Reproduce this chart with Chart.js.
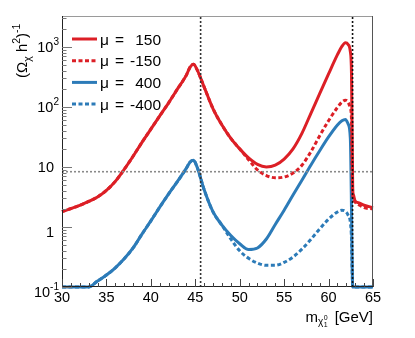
<!DOCTYPE html>
<html>
<head>
<meta charset="utf-8">
<script src="https://cdn.jsdelivr.net/npm/chart.js@4.4.1/dist/chart.umd.min.js"></script>
<style>
html, body { margin: 0; padding: 0; background: #fff; }
#wrap { width: 415px; height: 338px; }
</style>
</head>
<body>
<div id="wrap"><canvas id="relic" width="415" height="338"></canvas></div>
<script>
// neutralino mass grid (GeV)
const massGeV = [30, 32, 33, 34, 35, 36, 37, 38, 39, 40, 41, 42, 43, 44, 44.4, 44.8, 45.2, 46, 47, 48, 49, 50, 51, 52, 53,
    54, 55, 56, 57, 58, 59, 60, 61, 61.5, 61.9, 62.2, 62.45, 62.58, 62.65, 62.72, 62.8, 63, 63.5, 64, 65];

// (Omega h^2)^-1 for each mu
const invOmegaMu150 = [1.8, 2.29, 2.66, 3.16, 4.07, 5.75, 9.1, 15.1, 25.7, 42.7, 70.8, 117, 200, 339, 457, 513, 417, 214, 93, 50, 30, 20, 14.1, 11, 10,
    10.7, 13.5, 20, 36.3, 77.6, 166, 355, 741, 1020, 1175, 1100, 832, 355, 32, 4.2, 3.4, 2.7, 2.5, 2.3, 2.1];
const invOmegaMuM150 = [1.8, 2.29, 2.66, 3.16, 4.07, 5.75, 9.1, 15.1, 25.7, 42.7, 70.8, 117, 200, 339, 457, 513, 417, 214, 93, 50, 30, 20, 13.2, 8.9, 7.2,
    6.6, 6.8, 7.9, 10.7, 17.8, 33, 59, 98, 120, 129, 120, 95, 63, 10, 3.5, 3.0, 2.6, 2.3, 2.1, 2.0];
const invOmegaMu400 = [0.1, 0.1, 0.1, 0.126, 0.158, 0.209, 0.295, 0.447, 0.76, 1.26, 2.14, 3.55, 5.75, 9.55, 12.0, 12.9, 10, 4.17, 1.78, 1.07, 0.72, 0.525, 0.42, 0.447, 0.63,
    1.1, 1.9, 3.4, 6.0, 10.7, 18.6, 31.6, 50, 59, 62, 52, 30, 2.0, 0.25, 0.1, 0.1, 0.1, 0.1, 0.1, 0.1];
const invOmegaMuM400 = [0.1, 0.1, 0.1, 0.126, 0.158, 0.209, 0.295, 0.447, 0.76, 1.26, 2.14, 3.55, 5.75, 9.55, 12.0, 12.9, 10, 4.17, 1.78, 1.07, 0.63, 0.4, 0.3, 0.25, 0.23,
    0.23, 0.257, 0.316, 0.427, 0.62, 0.93, 1.35, 1.78, 1.9, 1.82, 1.58, 1.2, 0.63, 0.2, 0.1, 0.1, 0.1, 0.1, 0.1, 0.1];

const muLabels = ['150', '-150', '400', '-400'];

// reference lines: mZ/2, mh/2 and Planck relic density
const zHalfMass = 45.6;
const hHalfMass = 62.7;
const planckInvOmega = 8.33;

// axes
const xMin = 30, xMax = 65;
const yMin = 0.1, yMax = 3270;
const xTickValues = [30, 35, 40, 45, 50, 55, 60, 65];
const yTickValues = [0.1, 1, 10, 100, 1000];
const yTickBase = ['10', '1', '10', '10', '10'];
const yTickExp = ['-1', '', '', '2', '3'];

const RED = '#dc1f26';
const BLUE = '#2c7bb8';
const FONT = "'Liberation Sans', Arial, sans-serif";
const DASH = [4, 2.5];

const toPoints = (ys) => massGeV.map((m, i) => ({ x: m, y: ys[i] }));

function curve(ys, color, dashed) {
    return {
        data: toPoints(ys),
        borderColor: color,
        borderWidth: 3,
        borderDash: dashed ? DASH : [],
        pointRadius: 0,
        cubicInterpolationMode: 'monotone',
        clip: 4
    };
}

function refLine(points, color) {
    return {
        data: points,
        borderColor: color,
        borderWidth: 1.6,
        borderDash: [2, 2],
        pointRadius: 0,
        tension: 0
    };
}

// draws text made of pieces with their own size and vertical shift
function richText(ctx, parts, x, y) {
    let cx = x;
    parts.forEach(p => {
        ctx.font = p.size + 'px ' + FONT;
        ctx.fillText(p.t, cx, y + (p.dy || 0));
        cx += ctx.measureText(p.t).width;
    });
    return cx;
}

function richWidth(ctx, parts) {
    let w = 0;
    parts.forEach(p => {
        ctx.font = p.size + 'px ' + FONT;
        w += ctx.measureText(p.t).width;
    });
    return w;
}

const decorations = {
    id: 'decorations',
    beforeDraw(chart) {
        const ctx = chart.ctx;
        ctx.save();
        ctx.fillStyle = '#fff';
        ctx.fillRect(0, 0, chart.width, chart.height);
        ctx.restore();
    },
    afterDatasetsDraw(chart) {
        const ctx = chart.ctx;
        const xs = chart.scales.x, ys = chart.scales.y;
        const a = chart.chartArea;
        ctx.save();

        // frame
        ctx.lineWidth = 1;
        ctx.strokeStyle = '#9a9a9a';
        ctx.beginPath(); ctx.moveTo(a.left, a.top + 0.5); ctx.lineTo(a.right, a.top + 0.5); ctx.stroke();
        ctx.strokeStyle = '#555';
        ctx.beginPath(); ctx.moveTo(a.right - 0.5, a.top); ctx.lineTo(a.right - 0.5, a.bottom); ctx.stroke();
        ctx.strokeStyle = '#222';
        ctx.beginPath();
        ctx.moveTo(a.left + 0.5, a.top); ctx.lineTo(a.left + 0.5, a.bottom);
        ctx.moveTo(a.left, a.bottom - 0.5); ctx.lineTo(a.right, a.bottom - 0.5);
        ctx.stroke();

        // x ticks (inside the frame)
        ctx.strokeStyle = '#444';
        ctx.beginPath();
        for (let m = xMin; m <= xMax; m++) {
            const px = Math.round(xs.getPixelForValue(m)) + 0.5;
            const len = xTickValues.includes(m) ? 8 : 4;
            ctx.moveTo(px, a.bottom); ctx.lineTo(px, a.bottom - len);
        }
        ctx.stroke();

        // y ticks
        ctx.strokeStyle = '#777';
        ctx.beginPath();
        yTickValues.forEach(d => {
            for (let k = 1; k <= 9; k++) {
                const v = d * k;
                if (v > yMax) break;
                const py = Math.round(ys.getPixelForValue(v)) + 0.5;
                const len = k === 1 ? 10 : 4.5;
                ctx.moveTo(a.left, py); ctx.lineTo(a.left + len, py);
            }
        });
        ctx.stroke();

        // tick labels
        ctx.fillStyle = '#000';
        ctx.textBaseline = 'alphabetic';
        ctx.font = '14.5px ' + FONT;
        ctx.textAlign = 'center';
        xTickValues.forEach(v => {
            ctx.fillText(String(v), xs.getPixelForValue(v), a.bottom + 15);
        });
        ctx.textAlign = 'left';
        yTickValues.forEach((v, i) => {
            const py = ys.getPixelForValue(v);
            const parts = [{ t: yTickBase[i], size: 14.5 }];
            if (yTickExp[i]) parts.push({ t: yTickExp[i], size: 10, dy: -7 });
            const right = yTickExp[i] ? a.left - 3 : a.left - 8;
            const dy = v < 5 ? 10 : 5.5;
            richText(ctx, parts, right - richWidth(ctx, parts), py + dy);
        });

        // x title
        const xTitleRight = a.right;
        ctx.font = '15px ' + FONT;
        const gev = ' [GeV]';
        const gevW = ctx.measureText(gev).width;
        const base = a.bottom + 34.5;
        const mW = ctx.measureText('m').width;
        let tx = xTitleRight - gevW - 25;
        ctx.fillText('m', tx, base);
        tx += mW;
        ctx.font = '10px ' + FONT;
        ctx.fillText('\u03C7', tx, base + 3.5);
        tx += ctx.measureText('\u03C7').width + 0.5;
        ctx.font = '7px ' + FONT;
        ctx.fillText('0', tx, base - 2);
        ctx.fillText('1', tx, base + 5.5);
        ctx.font = '15px ' + FONT;
        ctx.fillText(gev, xTitleRight - gevW, base);

        // y title
        ctx.save();
        ctx.translate(27, 78);
        ctx.rotate(-Math.PI / 2);
        richText(ctx, [
            { t: '(\u03A9', size: 15 },
            { t: '\u03C7', size: 10.5, dy: 4 },
            { t: ' h', size: 15 },
            { t: '2', size: 10.5, dy: -7 },
            { t: ')', size: 15 },
            { t: '-1', size: 10.5, dy: -7 }
        ], 0, 0);
        ctx.restore();

        // legend
        const colors = [RED, RED, BLUE, BLUE];
        const dashed = [false, true, false, true];
        muLabels.forEach((lab, i) => {
            const ly = 39 + i * 21.7;
            ctx.strokeStyle = colors[i];
            ctx.lineWidth = 3;
            ctx.setLineDash(dashed[i] ? DASH : []);
            ctx.beginPath(); ctx.moveTo(72, ly); ctx.lineTo(97, ly); ctx.stroke();
            ctx.setLineDash([]);
            ctx.fillStyle = '#000';
            ctx.font = '15.5px ' + FONT;
            ctx.textAlign = 'left';
            ctx.fillText('\u03BC', 100, ly + 5.5);
            ctx.fillText('=', 115, ly + 5.5);
            ctx.textAlign = 'right';
            ctx.fillText(lab, 161, ly + 5.5);
        });

        ctx.restore();
    }
};

new Chart(document.getElementById('relic'), {
    type: 'line',
    data: {
        datasets: [
            refLine([{ x: zHalfMass, y: yMin }, { x: zHalfMass, y: yMax }], '#333'),
            refLine([{ x: hHalfMass, y: yMin }, { x: hHalfMass, y: yMax }], '#111'),
            refLine([{ x: xMin, y: planckInvOmega }, { x: xMax, y: planckInvOmega }], '#8a8a8a'),
            curve(invOmegaMu150, RED, false),
            curve(invOmegaMuM150, RED, true),
            curve(invOmegaMu400, BLUE, false),
            curve(invOmegaMuM400, BLUE, true)
        ]
    },
    options: {
        responsive: false,
        animation: false,
        layout: { padding: { left: 62, right: 42, top: 16, bottom: 51 } },
        plugins: {
            legend: { display: false },
            tooltip: { enabled: false }
        },
        scales: {
            x: { type: 'linear', min: xMin, max: xMax, display: false },
            y: { type: 'logarithmic', min: yMin, max: yMax, display: false }
        }
    },
    plugins: [decorations]
});
</script>
</body>
</html>
